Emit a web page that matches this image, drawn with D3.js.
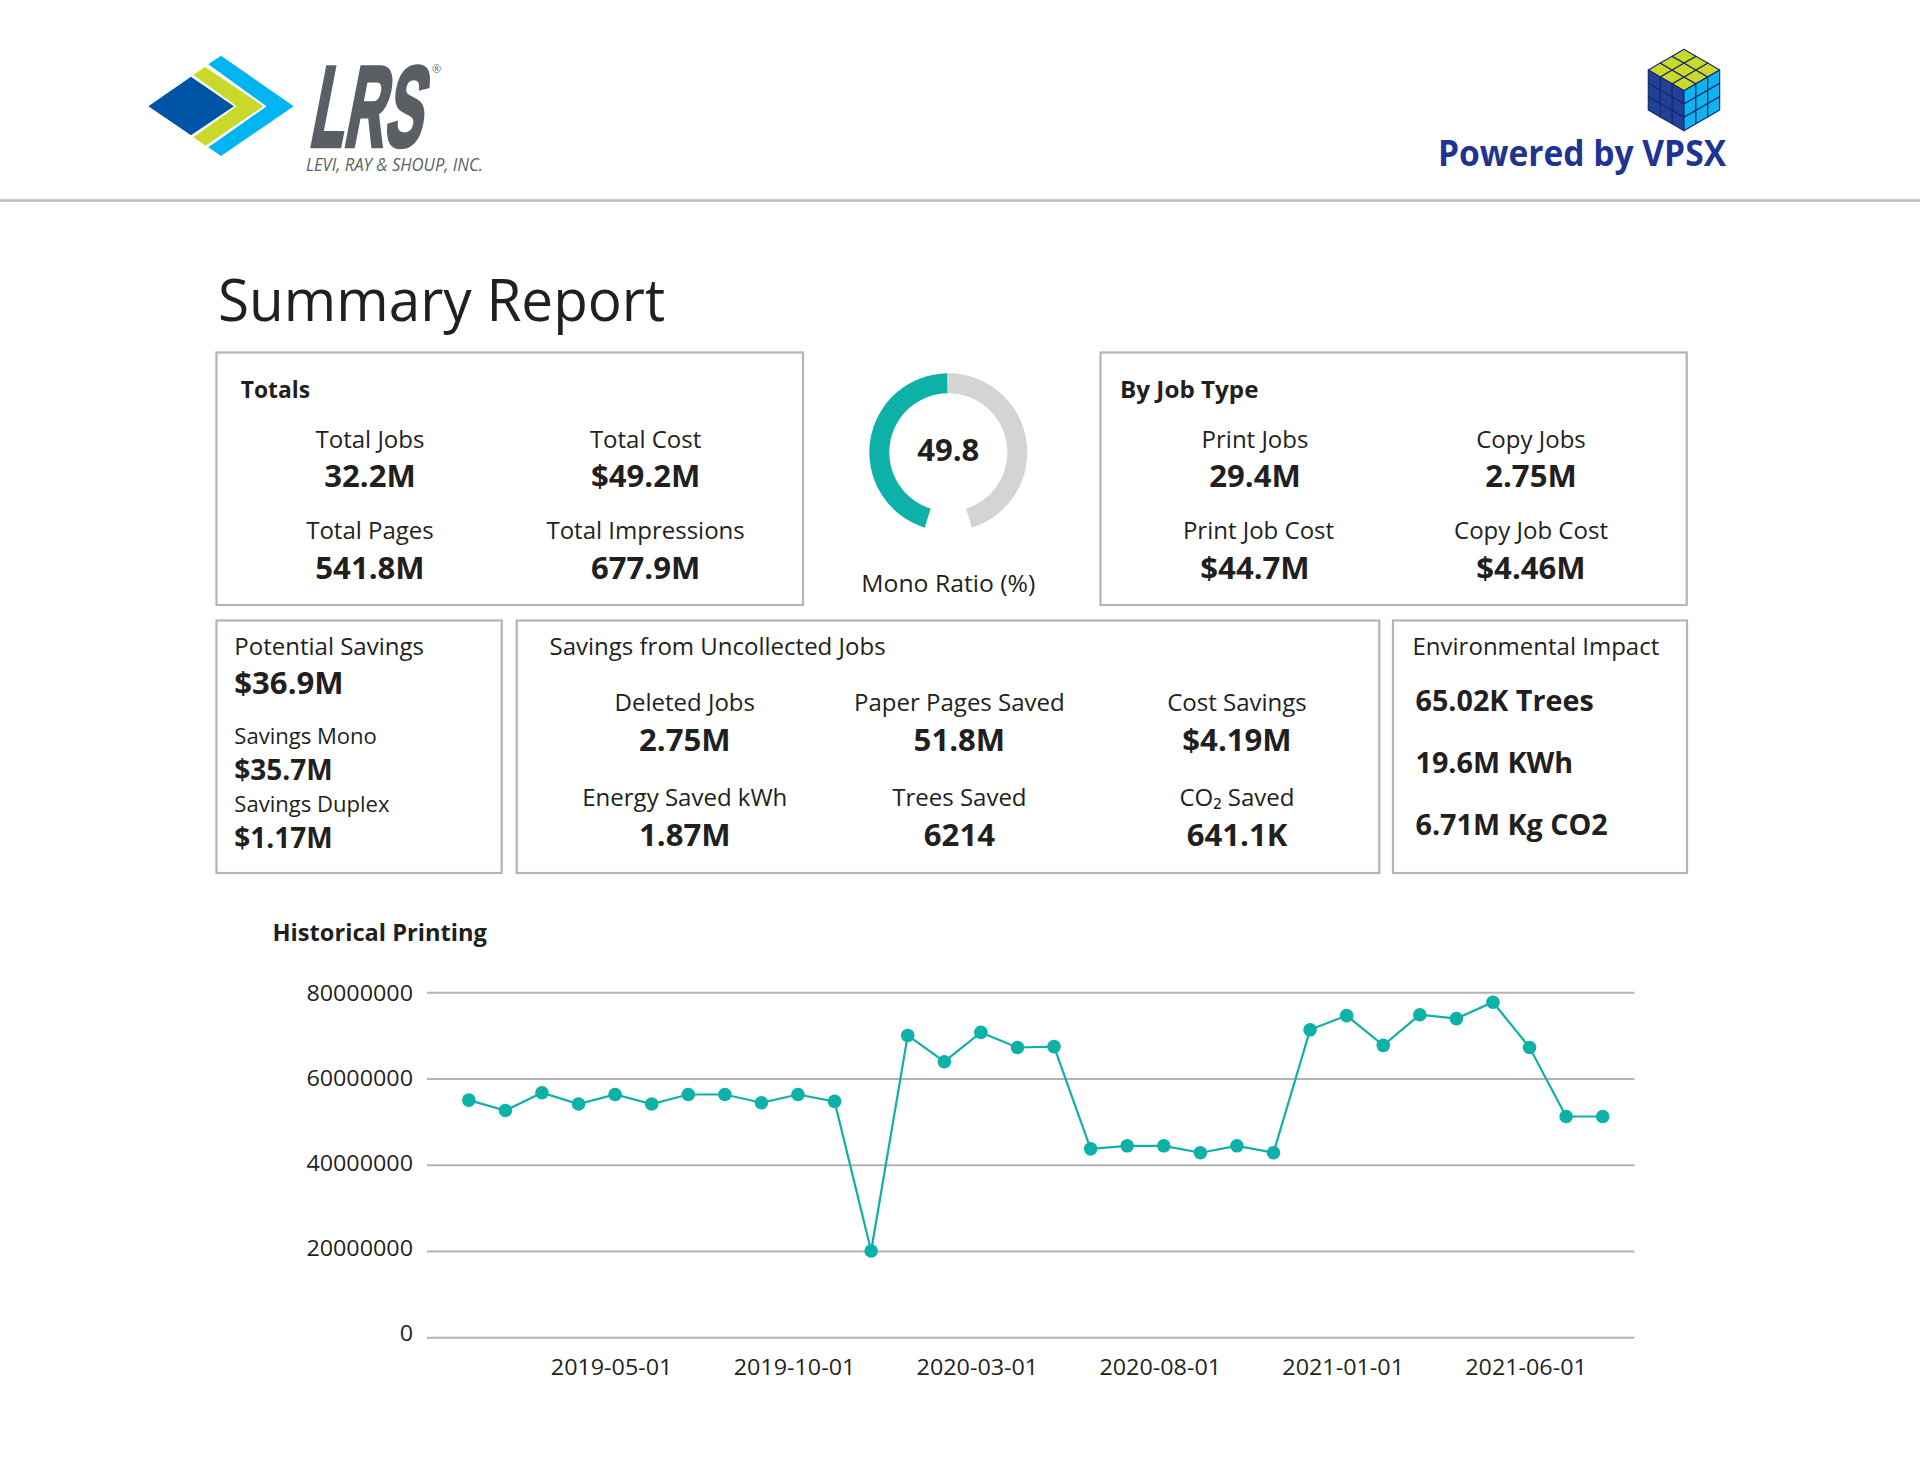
<!DOCTYPE html>
<html>
<head>
<meta charset="utf-8">
<title>Summary Report</title>
<script src="https://cdn.jsdelivr.net/npm/d3@7"></script>
<style>
  html, body { margin: 0; padding: 0; background: #fff; }
  svg { display: block; }
  text { font-family: "Open Sans", "Noto Sans", sans-serif; fill: #231f20; }
</style>
</head>
<body>
<svg id="report" width="1920" height="1476"></svg>
<script>
// chart values
const months = [
  "2019-01-01", "2019-02-01", "2019-03-01", "2019-04-01", "2019-05-01", "2019-06-01", "2019-07-01", "2019-08-01",
  "2019-09-01", "2019-10-01", "2019-11-01", "2019-12-01", "2020-01-01", "2020-02-01", "2020-03-01", "2020-04-01",
  "2020-05-01", "2020-06-01", "2020-07-01", "2020-08-01", "2020-09-01", "2020-10-01", "2020-11-01", "2020-12-01",
  "2021-01-01", "2021-02-01", "2021-03-01", "2021-04-01", "2021-05-01", "2021-06-01", "2021-07-01", "2021-08-01"
];
const pages = [
  55000000, 52600000, 56700000, 54100000, 56300000, 54100000, 56300000, 56300000,
  54400000, 56300000, 54700000, 20000000, 70000000, 63900000, 70700000, 67200000,
  67400000, 43700000, 44400000, 44400000, 42800000, 44400000, 42800000, 71300000,
  74600000, 67700000, 74800000, 73900000, 77700000, 67200000, 51200000, 51200000
];
const xTicks = ["2019-05-01", "2019-10-01", "2020-03-01", "2020-08-01", "2021-01-01", "2021-06-01"];
const yTicks = [0, 20000000, 40000000, 60000000, 80000000];

const monoRatio = 49.8;

const totalsLabels = ["Total Jobs", "Total Cost", "Total Pages", "Total Impressions"];
const totalsValues = ["32.2M", "$49.2M", "541.8M", "677.9M"];
const jobTypeLabels = ["Print Jobs", "Copy Jobs", "Print Job Cost", "Copy Job Cost"];
const jobTypeValues = ["29.4M", "2.75M", "$44.7M", "$4.46M"];
const uncollectedLabels = ["Deleted Jobs", "Paper Pages Saved", "Cost Savings", "Energy Saved kWh", "Trees Saved", "CO\u2082 Saved"];
const uncollectedValues = ["2.75M", "51.8M", "$4.19M", "1.87M", "6214", "641.1K"];
const environmentValues = ["65.02K Trees", "19.6M KWh", "6.71M Kg CO2"];

const TEAL = "#0db1a7";
const GREY_RING = "#d4d4d4";
const BORDER = "#b5b5b5";
const SLATE = "#5a5f66";

const svg = d3.select("#report");

// Myriad is not installed, so Open Sans gets stretched or squeezed to the same widths
function label(parent, x, y, str, size, opts = {}) {
  const weight = opts.weight || 400;
  const t = parent.append("text")
    .attr("x", x)
    .attr("y", y)
    .attr("font-size", size)
    .attr("font-weight", weight)
    .attr("text-anchor", opts.anchor || "start")
    .text(str);
  const squeeze = opts.squeeze || (weight >= 600 ? 1.02 : 0.98);
  t.attr("textLength", t.node().getComputedTextLength() * squeeze)
    .attr("lengthAdjust", "spacingAndGlyphs");
  return t;
}

function box(x0, y0, x1, y1) {
  svg.append("rect")
    .attr("x", x0)
    .attr("y", y0)
    .attr("width", x1 - x0)
    .attr("height", y1 - y0)
    .attr("fill", "none")
    .attr("stroke", BORDER)
    .attr("stroke-width", 2.2);
}

// one label/value pair per cell, filled row by row
function grid(labels, values, columns, rows, labelShift = []) {
  labels.forEach((d, i) => {
    const col = columns[i % columns.length];
    const row = rows[Math.floor(i / columns.length)];
    label(svg, col + (labelShift[i] || 0), row[0], d, 24.5, { anchor: "middle" });
    label(svg, col, row[1], values[i], 30.5, { anchor: "middle", weight: 700 });
  });
}

// header
svg.append("line")
  .attr("x1", 0).attr("x2", 1920)
  .attr("y1", 200.5).attr("y2", 200.5)
  .attr("stroke", "#bdbdbd")
  .attr("stroke-width", 2.5);

// LRS logo, drawn in 3x units
const logo = svg.append("g").attr("transform", "translate(120,30) scale(0.3333)");
logo.append("polygon").attr("points", "85,229 213,140 342,229 213,316").attr("fill", "#0054a6");
logo.append("polygon").attr("points", "220,135 255,110 430,229 257,347 220,322 350,229").attr("fill", "#c9d92c");
logo.append("polygon").attr("points", "265,103 303,77 521,229 303,378 265,352 440,229").attr("fill", "#00b5f0");

const lrs = svg.append("g").attr("transform", "translate(308,146) skewX(-11)");
lrs.append("text")
  .attr("font-size", 114)
  .attr("font-weight", 700)
  .attr("stroke", SLATE)
  .attr("stroke-width", 4.5)
  .attr("textLength", 112)
  .attr("lengthAdjust", "spacingAndGlyphs")
  .style("font-family", "'Liberation Sans Narrow', 'Liberation Sans', sans-serif")
  .style("fill", SLATE)
  .text("LRS");
svg.append("text")
  .attr("x", 432).attr("y", 73)
  .attr("font-size", 11)
  .style("fill", SLATE)
  .text("\u00ae");
svg.append("text")
  .attr("x", 306).attr("y", 171)
  .attr("font-size", 18.5)
  .attr("font-style", "italic")
  .attr("textLength", 177)
  .attr("lengthAdjust", "spacingAndGlyphs")
  .style("fill", SLATE)
  .text("LEVI, RAY & SHOUP, INC.");

// VPSX cube, drawn in 3x units around the middle corner
const cube = svg.append("g").attr("transform", "translate(1400,30) scale(0.3333)");
const cx = 852, cy = 182, dx = 107 / 3, dyX = 62 / 3, dyZ = 120 / 3;
const faces = [
  { fill: "#c9d92c", u: [dx, -dyX], v: [-dx, -dyX] },
  { fill: "#20409a", u: [-dx, -dyX], v: [0, dyZ] },
  { fill: "#0db4ef", u: [dx, -dyX], v: [0, dyZ] }
];
faces.forEach(f => {
  d3.range(3).forEach(i => d3.range(3).forEach(j => {
    const at = (a, b) => [cx + f.u[0] * a + f.v[0] * b, cy + f.u[1] * a + f.v[1] * b];
    cube.append("polygon")
      .attr("points", [at(i, j), at(i + 1, j), at(i + 1, j + 1), at(i, j + 1)].join(" "))
      .attr("fill", f.fill)
      .attr("stroke", "#17296b")
      .attr("stroke-width", 3.5)
      .attr("stroke-linejoin", "round");
  }));
});

svg.append("text")
  .attr("x", 1438).attr("y", 166)
  .attr("font-size", 35)
  .attr("font-weight", 700)
  .attr("textLength", 288)
  .attr("lengthAdjust", "spacingAndGlyphs")
  .style("fill", "#1d3494")
  .text("Powered by VPSX");

label(svg, 218, 321, "Summary Report", 59, { squeeze: 0.96 });

// Totals
box(216.5, 352.5, 803, 605);
label(svg, 240.7, 397.7, "Totals", 24, { weight: 700, squeeze: 0.95 });
grid(totalsLabels, totalsValues, [370, 645.6], [[447.7, 487.3], [538.7, 578.6]]);

// Mono ratio gauge
const gauge = svg.append("g").attr("transform", "translate(948.3,452.3)");
const gap = 17.4 * Math.PI / 180;
const gaugeSlices = d3.pie()
  .sort(null)
  .startAngle(-Math.PI + gap)
  .endAngle(Math.PI - gap)([monoRatio, 100 - monoRatio]);
gauge.selectAll("path")
  .data(gaugeSlices)
  .join("path")
  .attr("d", d3.arc().innerRadius(59).outerRadius(79))
  .attr("fill", (d, i) => i === 0 ? TEAL : GREY_RING);
label(svg, 948.3, 461, monoRatio.toFixed(1), 30.5, { anchor: "middle", weight: 700 });
label(svg, 948.3, 591.7, "Mono Ratio (%)", 24.5, { anchor: "middle", squeeze: 1.01 });

// By job type
box(1100.5, 352.5, 1686.7, 605);
label(svg, 1120, 397.7, "By Job Type", 24, { weight: 700, squeeze: 1.01 });
grid(jobTypeLabels, jobTypeValues, [1255, 1531], [[447.7, 487.3], [539, 578.6]], [0, 0, 3.5, 0]);

// Potential savings
box(216.5, 620.5, 501.7, 873);
label(svg, 234.3, 655, "Potential Savings", 24.5);
label(svg, 234.3, 694, "$36.9M", 30.5, { weight: 700 });
label(svg, 234.3, 743.8, "Savings Mono", 22.5);
label(svg, 234.3, 779.6, "$35.7M", 28, { weight: 700, squeeze: 1 });
label(svg, 234.3, 811.6, "Savings Duplex", 22.5);
label(svg, 234.3, 847.6, "$1.17M", 28, { weight: 700, squeeze: 1 });

// Uncollected jobs
box(516.7, 620.5, 1379.3, 873);
label(svg, 549.5, 655, "Savings from Uncollected Jobs", 24.5);
grid(uncollectedLabels, uncollectedValues, [684.8, 959.4, 1237], [[711, 750.6], [806, 845.6]]);

// Environment
box(1393, 620.5, 1687, 873);
label(svg, 1412.5, 655, "Environmental Impact", 24.5);
const envRows = [711.2, 773.2, 834.6];
environmentValues.forEach((d, i) => label(svg, 1415.5, envRows[i], d, 29, { weight: 700, squeeze: 0.99 }));

// Historical printing
label(svg, 272.5, 941, "Historical Printing", 24, { weight: 700, squeeze: 0.985 });

const x = d3.scalePoint().domain(months).range([468.8, 1602.7]);
const y = d3.scaleLinear().domain([0, 80000000]).range([1337.3, 992.3]);

const yAxis = svg.append("g")
  .attr("transform", "translate(427,0)")
  .call(d3.axisLeft(y)
    .tickValues(yTicks)
    .tickFormat(d3.format("d"))
    .tickSize(-1207.4)
    .tickPadding(14));
yAxis.select(".domain").remove();
yAxis.selectAll(".tick line").attr("stroke", "#b3b3b3").attr("stroke-width", 2);
// labels in the reference creep down from the gridline as the value rises
yAxis.selectAll(".tick text")
  .attr("font-size", 21)
  .attr("font-weight", 500)
  .attr("dy", d => 3.3 + 5 * d / 80000000)
  .style("font-family", "'Open Sans'");

const xAxis = svg.append("g")
  .attr("transform", "translate(0,1337.3)")
  .call(d3.axisBottom(x)
    .tickValues(xTicks)
    .tickSize(0)
    .tickPadding(23));
xAxis.select(".domain").remove();
xAxis.selectAll(".tick text")
  .attr("font-size", 21)
  .attr("font-weight", 500)
  .attr("dx", -4)
  .style("font-family", "'Open Sans'");

[yAxis, xAxis].forEach(axis => axis.selectAll(".tick text").each(function () {
  d3.select(this)
    .attr("textLength", this.getComputedTextLength() * 1.11)
    .attr("lengthAdjust", "spacingAndGlyphs");
}));

svg.append("path")
  .datum(pages)
  .attr("fill", "none")
  .attr("stroke", TEAL)
  .attr("stroke-width", 2.2)
  .attr("d", d3.line().x((d, i) => x(months[i])).y(d => y(d)));

svg.append("g")
  .selectAll("circle")
  .data(pages)
  .join("circle")
  .attr("cx", (d, i) => x(months[i]))
  .attr("cy", d => y(d))
  .attr("r", 6.8)
  .attr("fill", TEAL);
</script>
</body>
</html>
